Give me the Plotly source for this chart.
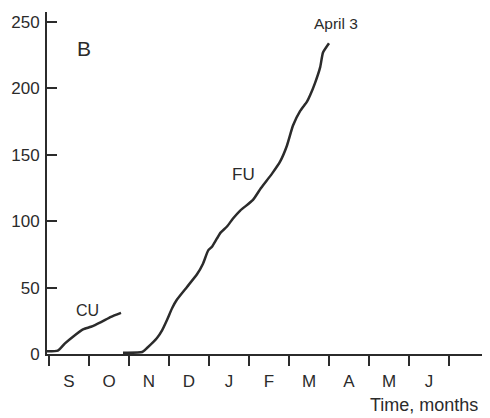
import plotly.graph_objects as go

# Months (x = months since Sept 1)
month_labels = ["S", "O", "N", "D", "J", "F", "M", "A", "M", "J"]
month_label_pos = [i + 0.5 for i in range(len(month_labels))]
month_boundaries = list(range(0, 11))

cu_x = [-0.05, 0.22, 0.4, 0.6, 0.85, 1.05, 1.3, 1.55, 1.8]
cu_y = [2, 2.5, 8, 13, 18.5, 20.5, 24, 28, 31]

fu_x = [1.85, 2.33, 2.45, 2.7, 2.83, 2.95, 3.08, 3.2, 3.45, 3.7, 3.85, 3.98, 4.08,
        4.2, 4.28, 4.45, 4.6, 4.78, 5.1, 5.3, 5.58, 5.78, 5.95, 6.1, 6.28, 6.45,
        6.53, 6.65, 6.78, 6.85, 7.0]
fu_y = [1, 1.5, 4.5, 12, 18, 25.6, 34.6, 41, 50.5, 60, 68, 78, 81,
        87, 91, 96, 102, 108, 116, 125, 136, 145, 157, 172, 183, 190,
        195, 204, 216, 227, 234]

y_ticks = [0, 50, 100, 150, 200, 250]

ink = "#2b2b2b"
font = "Liberation Sans, Arial, sans-serif"

fig = go.Figure()
fig.add_trace(go.Scatter(x=cu_x, y=cu_y, mode="lines",
                         line=dict(color=ink, width=2.5, shape="spline", smoothing=0.5),
                         showlegend=False, hoverinfo="skip"))
fig.add_trace(go.Scatter(x=fu_x, y=fu_y, mode="lines",
                         line=dict(color=ink, width=2.5, shape="spline", smoothing=0.5),
                         showlegend=False, hoverinfo="skip"))

# page body has an 8px margin, so the figure is sized/offset to compensate
fig.update_layout(
    width=482, height=410,
    margin=dict(l=39, r=0, t=4, b=64, autoexpand=False),
    paper_bgcolor="white", plot_bgcolor="white",
    font=dict(family=font, color=ink),
    xaxis=dict(range=[-0.05, 11.025], showgrid=False, zeroline=False,
               showline=True, linecolor=ink, linewidth=2,
               tickmode="array", tickvals=month_label_pos, ticktext=month_labels,
               ticks="outside", ticklen=11, tickcolor="rgba(0,0,0,0)",
               tickfont=dict(size=17, color=ink),
               minor=dict(tickmode="array", tickvals=month_boundaries,
                          ticks="outside", ticklen=10, tickwidth=2,
                          tickcolor=ink, showgrid=False)),
    yaxis=dict(range=[0, 257.5], showgrid=False, zeroline=False,
               showline=True, linecolor=ink, linewidth=2,
               tickmode="array", tickvals=y_ticks,
               ticks="inside", ticklen=10, tickwidth=2, tickcolor=ink,
               ticklabelstandoff=2,
               tickfont=dict(size=17, color=ink)),
)

annotations = [
    dict(x=0.875, y=230, text="B", font=dict(size=21)),
    dict(x=0.97, y=32.5, text="CU", font=dict(size=16)),
    dict(x=4.85, y=135, text="FU", font=dict(size=17)),
    dict(x=7.17, y=249, text="April 3", font=dict(size=15.5)),
]
for a in annotations:
    fig.add_annotation(xref="x", yref="y", showarrow=False,
                       xanchor="center", yanchor="middle", **a)

fig.add_annotation(xref="paper", yref="paper", x=(368 - 47) / 443, y=-51 / 342,
                   xanchor="left", yanchor="middle", showarrow=False,
                   text="Time, months", font=dict(size=18, color=ink))

fig.write_html("out.html")
